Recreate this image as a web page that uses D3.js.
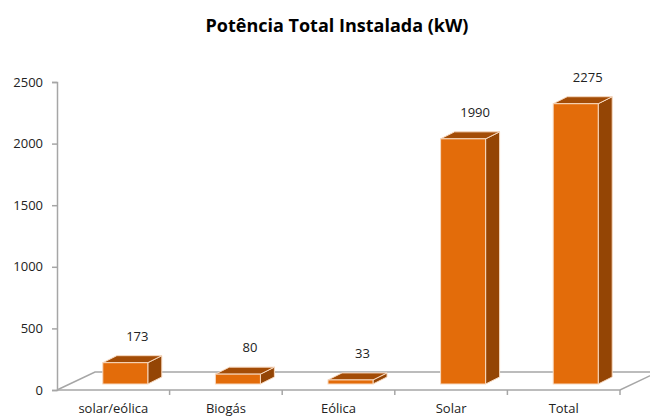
<!DOCTYPE html>
<html>
<head>
<meta charset="utf-8">
<script src="https://cdn.jsdelivr.net/npm/d3@7"></script>
<style>
  body { margin: 0; background: #fff; }
  text { font-family: "Open Sans", "Noto Sans", sans-serif; fill: #222; }
</style>
</head>
<body>
<div class="chart"></div>
<script>
var categories = ["solar/eólica", "Biogás", "Eólica", "Solar", "Total"];
var values = [173, 80, 33, 1990, 2275];
var yTicks = [0, 500, 1000, 1500, 2000, 2500];

var svgWidth = 650;
var svgHeight = 416;

// 3d offsets
var floorDx = 38, floorDy = 18;
var barDx = 14, barDy = 7;
var barShiftX = 12, barShiftY = 6;
var barWidth = 45;

var svg = d3.select(".chart")
  .append("svg")
  .attr("width", svgWidth)
  .attr("height", svgHeight);

var x = d3.scaleBand()
  .domain(categories)
  .range([57, 620]);

var y = d3.scaleLinear()
  .domain([0, 2500])
  .range([390, 82]);

// title
svg.append("text")
  .attr("x", 337)
  .attr("y", 32)
  .attr("text-anchor", "middle")
  .style("font-size", "18px")
  .style("font-weight", "bold")
  .style("fill", "#000")
  .text("Potência Total Instalada (kW)");

// floor
var floor = svg.append("g")
  .attr("fill", "none")
  .attr("stroke", "#a6a6a6")
  .attr("stroke-width", 1.5);

var x0 = x.range()[0], x1 = x.range()[1], y0 = y(0);
floor.append("path")
  .attr("d", `M${x0},${y0} L${x0 + floorDx},${y0 - floorDy} L${svgWidth + 10},${y0 - floorDy}`);
floor.append("path")
  .attr("d", `M${x0},${y0} L${x1},${y0} L${x1 + floorDx},${y0 - floorDy}`);

// y axis
var yAxis = d3.axisLeft(y)
  .tickValues(yTicks)
  .tickFormat(d3.format("d"))
  .tickSize(5)
  .tickPadding(9);

var yAxisG = svg.append("g")
  .attr("transform", `translate(${x0},0)`)
  .call(yAxis);
yAxisG.select(".domain").attr("stroke", "#a6a6a6").attr("stroke-width", 1.5);
yAxisG.selectAll(".tick line").attr("stroke", "#a6a6a6").attr("stroke-width", 1.5);
yAxisG.selectAll(".tick text").style("font-size", "13px").style("font-family", "Open Sans, sans-serif").attr("fill", "#222");

// x ticks on floor front edge
var xTickPos = categories.map(c => x(c)).concat([x1]).slice(1);
svg.append("g").selectAll("line")
  .data(xTickPos)
  .enter()
  .append("line")
  .attr("x1", d => d).attr("x2", d => d)
  .attr("y1", y0).attr("y2", y0 + 5)
  .attr("stroke", "#a6a6a6")
  .attr("stroke-width", 1.5);

// x labels
svg.append("g").selectAll("text")
  .data(categories)
  .enter()
  .append("text")
  .attr("x", d => x(d) + x.bandwidth() / 2)
  .attr("y", 413)
  .attr("text-anchor", "middle")
  .style("font-size", "13px")
  .text(d => d);

// bars
var data = categories.map((c, i) => ({ cat: c, value: values[i] }));

var bars = svg.append("g").selectAll("g")
  .data(data)
  .enter()
  .append("g");

function barLeft(d) { return x(d.cat) + x.bandwidth() / 2 + barShiftX - barWidth / 2; }
function barRight(d) { return barLeft(d) + barWidth; }
function barTop(d) { return y(d.value) - barShiftY; }
function barBottom() { return y(0) - barShiftY; }

// side face
bars.append("path")
  .attr("d", d => `M${barRight(d)},${barTop(d)} L${barRight(d) + barDx},${barTop(d) - barDy} L${barRight(d) + barDx},${barBottom() - barDy} L${barRight(d)},${barBottom()} Z`)
  .attr("fill", "#944505")
  .attr("stroke", "#f7d9c0")
  .attr("stroke-width", 1);

// top face
bars.append("path")
  .attr("d", d => `M${barLeft(d)},${barTop(d)} L${barLeft(d) + barDx},${barTop(d) - barDy} L${barRight(d) + barDx},${barTop(d) - barDy} L${barRight(d)},${barTop(d)} Z`)
  .attr("fill", "#a34c06")
  .attr("stroke", "#f7d9c0")
  .attr("stroke-width", 1);

// front face
bars.append("rect")
  .attr("x", d => barLeft(d))
  .attr("y", d => barTop(d))
  .attr("width", barWidth)
  .attr("height", d => barBottom() - barTop(d))
  .attr("fill", "#e36c0a")
  .attr("stroke", "#f7d9c0")
  .attr("stroke-width", 1);

// value labels
bars.append("text")
  .attr("x", d => barLeft(d) + barWidth / 2 + 12)
  .attr("y", d => barTop(d) - 22)
  .attr("text-anchor", "middle")
  .style("font-size", "13px")
  .text(d => d.value);
</script>
</body>
</html>
